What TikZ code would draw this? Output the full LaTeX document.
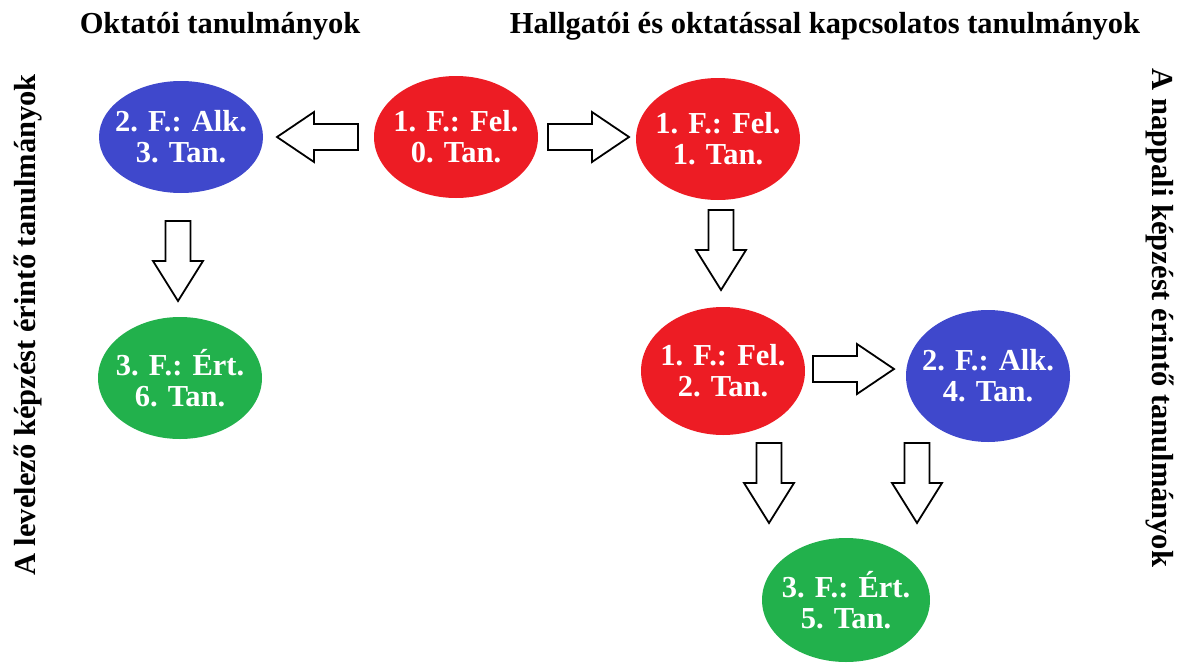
\documentclass[tikz,border=0pt]{standalone}
\usepackage{fontspec}
\setmainfont{Liberation Serif}
\usetikzlibrary{shapes.geometric}
\definecolor{pred}{HTML}{ED1C24}
\definecolor{pblue}{HTML}{3F48CC}
\definecolor{pgreen}{HTML}{22B14C}
\tikzset{
  blob/.style={ellipse, inner xsep=-20pt, inner ysep=-5pt, minimum width=164pt, minimum height=122pt,
    text=white, align=center, font=\fontsize{30.5}{31}\selectfont\bfseries},
  redblob/.style={blob, fill=pred},
  blueblob/.style={blob, fill=pblue},
  greenblob/.style={blob, fill=pgreen},
  title/.style={font=\fontsize{30.5}{32}\selectfont\bfseries, anchor=base},
  sidetext/.style={font=\fontsize{30.5}{32}\selectfont\bfseries},
  barrow/.pic={\draw[fill=white, line width=1.8pt, line join=miter]
    (0,-13) -- (44,-13) -- (44,-25) -- (81,0) -- (44,25) -- (44,13) -- (0,13) -- cycle;},
  varrow/.pic={\draw[fill=white, line width=1.8pt, line join=miter]
    (0,-12.5) -- (40,-12.5) -- (40,-25) -- (80,0) -- (40,25) -- (40,12.5) -- (0,12.5) -- cycle;}
}
\begin{document}
\begin{tikzpicture}[x=1pt,y=-1pt]
\useasboundingbox (0,0) rectangle (1179,664);
% titles
\node[title] (t1) at (220,33) {Oktatói tanulmányok};
\node[title] (t2) at (825,33) {Hallgatói és oktatással kapcsolatos tanulmányok};
\node[sidetext, rotate=90] (s1) at (28,325) {A levelező képzést érintő tanulmányok};
\node[sidetext, rotate=-90] (s2) at (1160,318) {A nappali képzést érintő tanulmányok};
% nodes
\node[blueblob, minimum height=112pt] (a) at (181,137) {2. F.: Alk.\\3. Tan.};
\node[redblob] (b) at (456,137) {1. F.: Fel.\\0. Tan.};
\node[redblob] (c) at (718,139) {1. F.: Fel.\\1. Tan.};
\node[greenblob] (d) at (180,378) {3. F.: Ért.\\6. Tan.};
\node[redblob, minimum height=128pt] (e) at (723,371) {1. F.: Fel.\\2. Tan.};
\node[blueblob, minimum height=132pt] (f) at (988,376) {2. F.: Alk.\\4. Tan.};
\node[greenblob, minimum width=168pt, minimum height=124pt] (g) at (846,600) {3. F.: Ért.\\5. Tan.};
% block arrows
\pic[rotate=180] at (358,137) {barrow};
\pic at (548,137) {barrow};
\pic at (813,369) {barrow};
\pic[rotate=-90] at (178,221) {varrow};
\pic[rotate=-90] at (721,210) {varrow};
\pic[rotate=-90] at (769,443) {varrow};
\pic[rotate=-90] at (917,443) {varrow};
\end{tikzpicture}
\end{document}
